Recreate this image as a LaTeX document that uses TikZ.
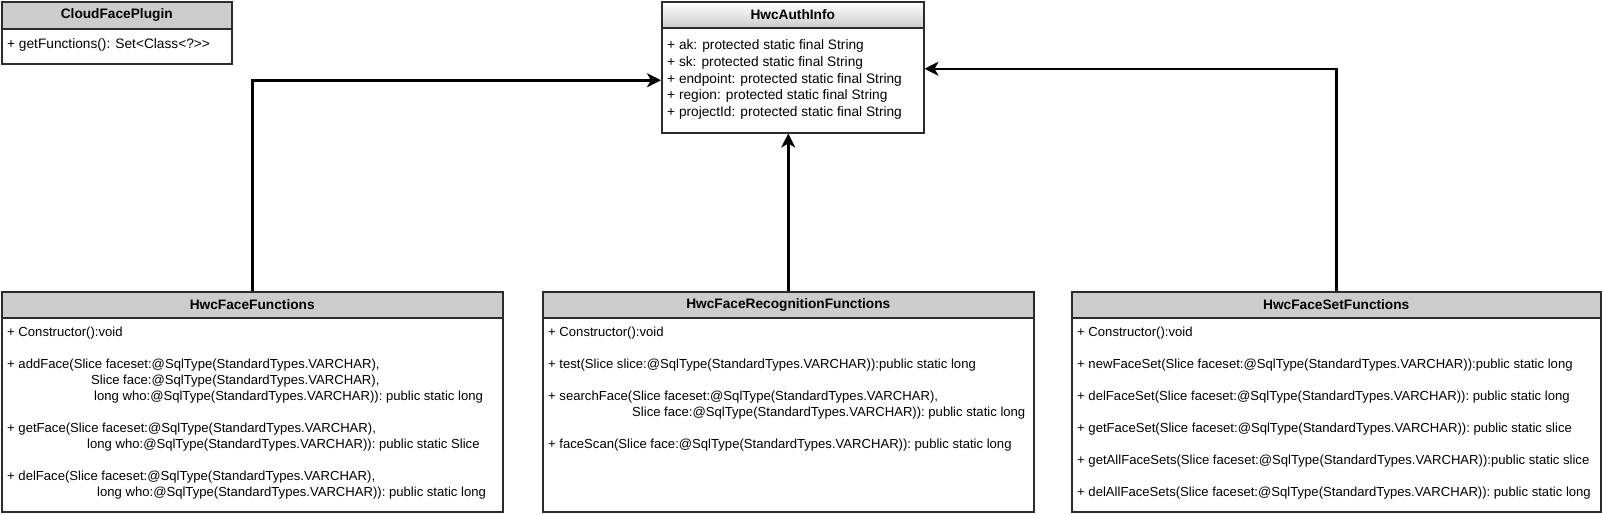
\documentclass[tikz,border=0pt]{standalone}
\usepackage{fontspec}
\setmainfont{Liberation Sans}
\usetikzlibrary{arrows.meta}

\definecolor{headgray}{HTML}{CCCCCC}
\definecolor{classframe}{HTML}{2B2B2B}

\tikzset{
  classhead/.style={draw=classframe, line width=1.5pt, fill=headgray, anchor=north west,
    inner sep=0pt, font=\fontsize{13.7}{16}\selectfont\bfseries},
  classbody/.style={draw=classframe, line width=1.5pt, fill=white, anchor=north west, inner sep=0pt},
  members/.style={anchor=north west, align=left, inner sep=0pt, font=\fontsize{13.1}{16}\selectfont},
  inherit/.style={line width=2.5pt, -{Stealth[length=14pt, width=14pt, inset=4pt]}}
}

\begin{document}
\begin{tikzpicture}[x=1pt, y=-1pt]
  \useasboundingbox (0,0) rectangle (1602,514);

  % Класс CloudFacePlugin
  \node[classhead, minimum width=230pt, minimum height=27pt] (plugin) at (1,1) {CloudFacePlugin};
  \node[classbody, minimum width=230pt, minimum height=35pt] (pluginBody) at (1,28) {};
  \node[members, font=\fontsize{13.7}{16}\selectfont] (pluginText) at (7,38.5) {+ getFunctions(): Set<Class<?>{}>};

  % Класс HwcAuthInfo
  \node[classhead, top color=white, bottom color=headgray, minimum width=262pt, minimum height=26pt] (auth) at (661,1) {HwcAuthInfo};
  \node[classbody, minimum width=262pt, minimum height=105pt] (authBody) at (661,27) {};
  \node[members, font=\fontsize{13.7}{16.7}\selectfont] (authText) at (667,39.5) {%
    + ak: protected static final String\\
    + sk: protected static final String\\
    + endpoint: protected static final String\\
    + region: protected static final String\\
    + projectId: protected static final String};

  % Класс HwcFaceFunctions
  \node[classhead, minimum width=501pt, minimum height=26pt] (faces) at (1,291) {HwcFaceFunctions};
  \node[classbody, minimum width=501pt, minimum height=194pt] (facesBody) at (1,317) {};
  \node[members] (facesText) at (7,326.5) {%
    + Constructor():void\\[16pt]
    + addFace(Slice faceset:@SqlType(StandardTypes.VARCHAR),\\
    \hspace*{84pt}Slice face:@SqlType(StandardTypes.VARCHAR),\\
    \hspace*{87pt}long who:@SqlType(StandardTypes.VARCHAR)): public static long\\[16pt]
    + getFace(Slice faceset:@SqlType(StandardTypes.VARCHAR),\\
    \hspace*{80pt}long who:@SqlType(StandardTypes.VARCHAR)): public static Slice\\[16pt]
    + delFace(Slice faceset:@SqlType(StandardTypes.VARCHAR),\\
    \hspace*{90pt}long who:@SqlType(StandardTypes.VARCHAR)): public static long};

  % Класс HwcFaceRecognitionFunctions
  \node[classhead, minimum width=491pt, minimum height=26pt] (recog) at (542,291) {HwcFaceRecognitionFunctions};
  \node[classbody, minimum width=491pt, minimum height=194pt] (recogBody) at (542,317) {};
  \node[members] (recogText) at (548,326.5) {%
    + Constructor():void\\[16pt]
    + test(Slice slice:@SqlType(StandardTypes.VARCHAR)):public static long\\[16pt]
    + searchFace(Slice faceset:@SqlType(StandardTypes.VARCHAR),\\
    \hspace*{84pt}Slice face:@SqlType(StandardTypes.VARCHAR)): public static long\\[16pt]
    + faceScan(Slice face:@SqlType(StandardTypes.VARCHAR)): public static long};

  % Класс HwcFaceSetFunctions
  \node[classhead, minimum width=529pt, minimum height=26pt] (sets) at (1071,291) {HwcFaceSetFunctions};
  \node[classbody, minimum width=529pt, minimum height=194pt] (setsBody) at (1071,317) {};
  \node[members] (setsText) at (1077,326.5) {%
    + Constructor():void\\[16pt]
    + newFaceSet(Slice faceset:@SqlType(StandardTypes.VARCHAR)):public static long\\[16pt]
    + delFaceSet(Slice faceset:@SqlType(StandardTypes.VARCHAR)): public static long\\[16pt]
    + getFaceSet(Slice faceset:@SqlType(StandardTypes.VARCHAR)): public static slice\\[16pt]
    + getAllFaceSets(Slice faceset:@SqlType(StandardTypes.VARCHAR)):public static slice\\[16pt]
    + delAllFaceSets(Slice faceset:@SqlType(StandardTypes.VARCHAR)): public static long};

  % Стрелки наследования
  \draw[inherit] (faces.north) |- (authBody.west);
  \draw[inherit] (recog.north) -- (recog.north |- authBody.south);
  \draw[inherit] (sets.north) |- ([yshift=11.5pt]authBody.east);
\end{tikzpicture}
\end{document}
